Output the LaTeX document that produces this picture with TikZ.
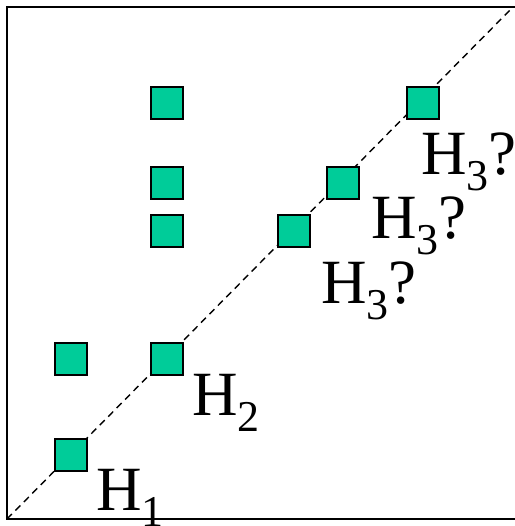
\documentclass[tikz,border=0pt]{standalone}
\usepackage{fontspec}
\setmainfont{Liberation Serif}
\definecolor{boxgreen}{RGB}{0,204,153}
\newcommand{\lowsub}[1]{\raisebox{-16pt}{\fontsize{44}{48}\selectfont #1}}
\tikzset{
  pt/.style={draw, line width=1.6pt, fill=boxgreen, minimum size=32pt, inner sep=0pt},
  lab/.style={anchor=base west, inner sep=0pt, font=\fontsize{63}{70}\selectfont}
}
\begin{document}
\begin{tikzpicture}[x=1pt,y=1pt]
        \useasboundingbox (0,0) rectangle (514,-526);
        \draw[line width=2pt] (7,-7) rectangle (518,-519);
        \coordinate (ll) at (7,-519);
        \coordinate (ur) at (513,-7);
        \draw[line width=1.4pt, dash pattern=on 7pt off 5pt] (ll) -- (ur);

        \node[pt] (a1) at (71,-455) {};
        \node[pt] (b0) at (71,-359) {};
        \node[pt] (a2) at (167,-359) {};
        \node[pt] (c1) at (167,-231) {};
        \node[pt] (c2) at (167,-183) {};
        \node[pt] (c3) at (167,-103) {};
        \node[pt] (a3) at (294,-231) {};
        \node[pt] (a4) at (343,-183) {};
        \node[pt] (a5) at (423,-103) {};

        \node[lab] (h1) at (96,-510) {H\lowsub{1}};
        \node[lab] (h2) at (192,-415) {H\lowsub{2}};
        \node[lab] (h3c) at (321,-303) {H\lowsub{3}?};
        \node[lab] (h3b) at (371,-238) {H\lowsub{3}?};
        \node[lab] (h3a) at (421,-175) {H\lowsub{3}?};
    \end{tikzpicture}
\end{document}
